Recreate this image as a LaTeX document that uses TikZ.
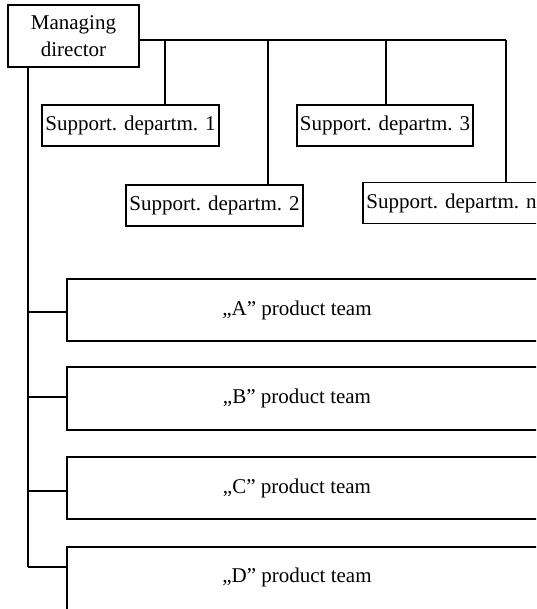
\documentclass[tikz,border=0pt]{standalone}
\usepackage{fontspec}
\setmainfont{Liberation Serif}
\begin{document}
\begin{tikzpicture}[x=1pt,y=-1pt,
  line width=1.4pt,
  txt/.style={font=\fontsize{21}{26}\selectfont},
  box/.style={draw, rectangle, inner sep=0pt, txt},
  dept/.style={box, minimum width=177pt, minimum height=41pt},
  team/.style={draw, rectangle, inner sep=0pt, minimum width=533pt, minimum height=62pt},
  teamlabel/.style={txt, inner sep=0pt, xshift=-36.5pt},
  conn/.style={line width=1.4pt}]
\clip (0,0) rectangle (536,609);
% nodes
\node[box, minimum width=131pt, minimum height=62pt, align=center] (md) at (73.5,36) {Managing\\[1pt]director};
\node[dept] (sd1) at (130.5,125.5) {Support. departm. 1};
\node[dept] (sd2) at (214.5,205.5) {Support. departm. 2};
\node[dept, minimum width=176pt] (sd3) at (385,125.5) {Support. departm. 3};
\node[dept] (sdn) at (451.5,203) {Support. departm. n};
\node[team, label={[teamlabel]center:„A” product team}] (A) at (333.5,310) {};
\node[team, minimum height=63pt, label={[teamlabel]center:„B” product team}] (B) at (333.5,398.5) {};
\node[team, label={[teamlabel]center:„C” product team}] (C) at (333.5,488) {};
\node[team, minimum height=68pt, label={[teamlabel, yshift=3.5pt]center:„D” product team}] (D) at (333.5,581) {};
% bus to support departments
\coordinate (busL) at (md.east |- 0,40);
\coordinate (busR) at (506,40);
\coordinate (t1) at (165,40);
\coordinate (t2) at (268,40);
\coordinate (t3) at (386,40);
\draw[conn] (busL) -- (busR);
\draw[conn] (t1) -- (t1 |- sd1.north);
\draw[conn] (t2) -- (t2 |- sd2.north);
\draw[conn] (t3) -- (t3 |- sd3.north);
\draw[conn] (busR) -- (busR |- sdn.north);
% trunk to product teams
\coordinate (trTop) at (md.south -| 28,0);
\coordinate (trBot) at (28,567);
\draw[conn] (trTop) -- (trBot);
\coordinate (ja) at (28,312);
\coordinate (jb) at (28,397);
\coordinate (jc) at (28,491);
\draw[conn] (ja) -- (ja -| A.west);
\draw[conn] (jb) -- (jb -| B.west);
\draw[conn] (jc) -- (jc -| C.west);
\draw[conn] (trBot) -- (trBot -| D.west);
\end{tikzpicture}
\end{document}
